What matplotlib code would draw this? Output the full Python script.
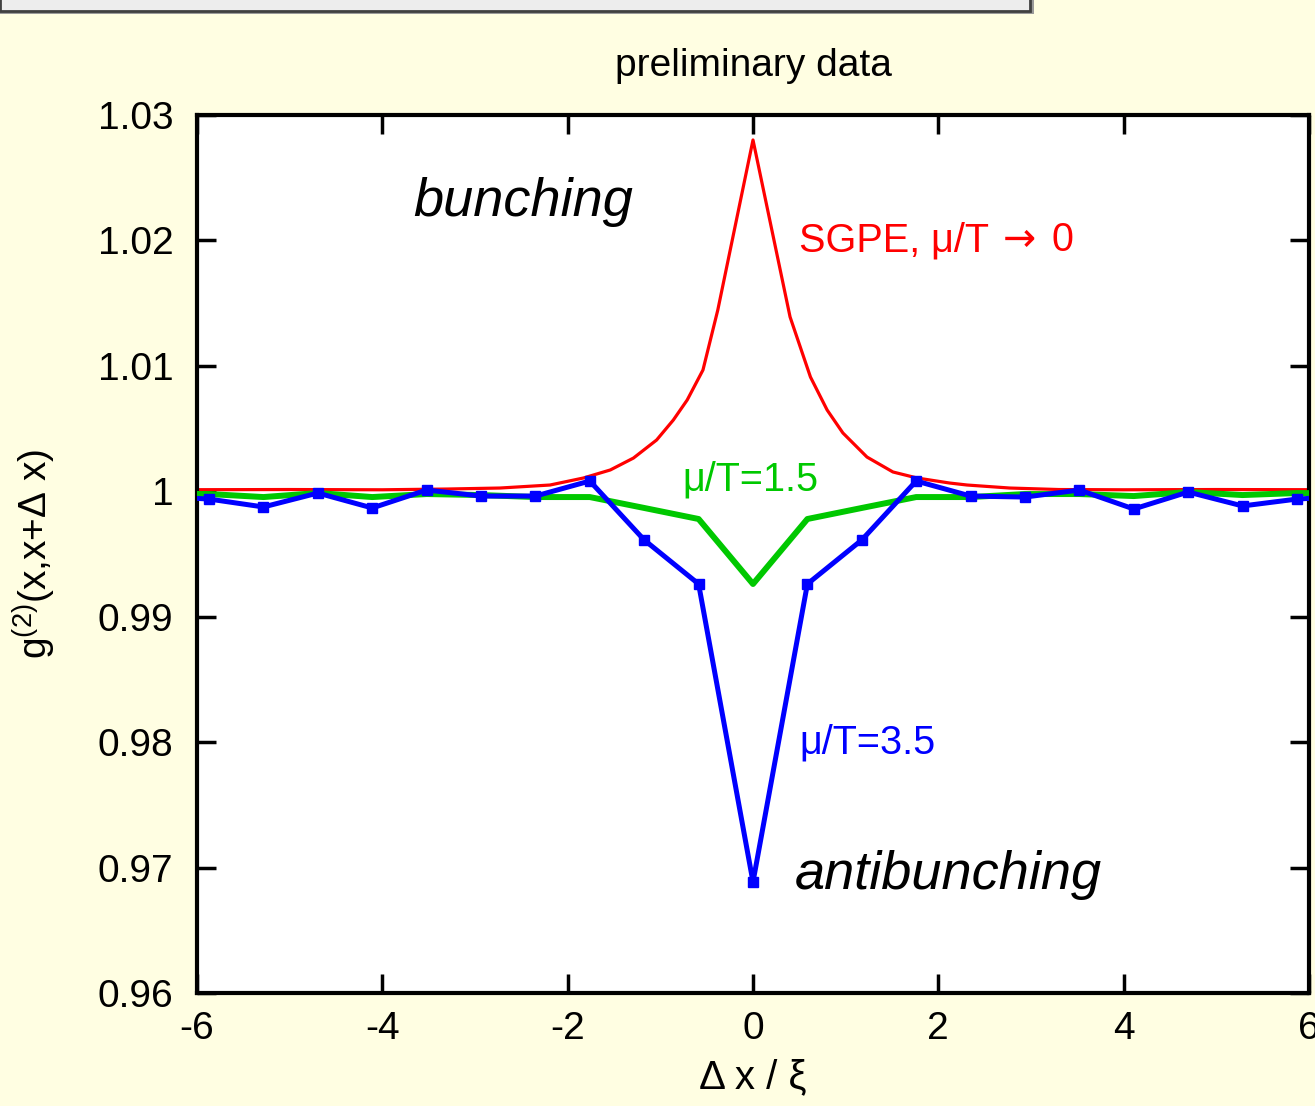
import numpy as np
import matplotlib
matplotlib.use("Agg")
import matplotlib.pyplot as plt
from matplotlib.patches import Rectangle

plt.rcParams['font.family'] = ['Liberation Sans', 'DejaVu Sans']
plt.rcParams['mathtext.fontset'] = 'custom'
plt.rcParams['mathtext.rm'] = 'Liberation Sans'

# SGPE, mu/T -> 0 (red)
red_x = [-6.5, -5.0, -4.0, -3.3, -2.73, -2.19, -1.83, -1.54, -1.29, -1.04, -0.86,
         -0.71, -0.54, -0.38, 0.0, 0.40, 0.62, 0.80, 0.97, 1.23, 1.51, 1.77, 2.12,
         2.31, 2.77, 3.3, 4.0, 5.0, 6.5]
red_y = [1.00012, 1.00014, 1.00012, 1.00018, 1.00026, 1.00050, 1.00106, 1.00170,
         1.00265, 1.00409, 1.00568, 1.00728, 1.00967, 1.01445, 1.02801, 1.01390,
         1.00911, 1.00648, 1.00465, 1.00273, 1.00154, 1.00106, 1.00066, 1.00050,
         1.00026, 1.00014, 1.00012, 1.00014, 1.00012]

# lattice points, spacing 0.587 xi
k = np.arange(-11, 12)
dx = 0.587 * k

# mu/T = 1.5 (green)
green_y = [0.99982, 0.99978, 0.99954, 0.99986, 0.99954, 0.99978, 0.99970, 0.99954,
           0.99954, 0.99867, 0.99779, 0.99261, 0.99779, 0.99867, 0.99954, 0.99954,
           0.99978, 0.99978, 0.99962, 0.99994, 0.99970, 0.99986, 0.99982]

# mu/T = 3.5 (blue)
blue_y = [0.99962, 0.99938, 0.99875, 0.99986, 0.99867, 1.00010, 0.99962, 0.99962,
          1.00082, 0.99612, 0.99261, 0.96885, 0.99261, 0.99612, 1.00082, 0.99962,
          0.99954, 1.00010, 0.99859, 0.99994, 0.99883, 0.99938, 0.99962]

bg = '#fffee2'
fig = plt.figure(figsize=(13.15, 11.06), dpi=100, facecolor=bg)

# slide title box cut off at the top
fig.patches.append(Rectangle((0.0, 1 - 14 / 1106), 1034 / 1315, 30 / 1106,
                             transform=fig.transFigure, facecolor='#9a9a9a',
                             edgecolor='none', zorder=0))
fig.patches.append(Rectangle((0.0, 1 - 11 / 1106), 1030 / 1315, 30 / 1106,
                             transform=fig.transFigure, facecolor='#ededed',
                             edgecolor='#404040', linewidth=2, zorder=1))

ax = fig.add_axes([197 / 1315, 1 - 993 / 1106, 1112 / 1315, 878 / 1106])
ax.set_facecolor('white')

ax.plot(red_x, red_y, color='#ff0000', lw=2.3, zorder=2)
ax.plot(dx, green_y, color='#00c800', lw=4.3, zorder=3)
ax.plot(dx, blue_y, color='#0000ff', lw=3.6, marker='s', ms=7, zorder=4)

ax.set_xlim(-6, 6)
ax.set_ylim(0.96, 1.03)
ax.set_xticks([-6, -4, -2, 0, 2, 4, 6])
ax.set_xticklabels(['-6', '-4', '-2', '0', '2', '4', '6'])
ax.set_yticks([0.96, 0.97, 0.98, 0.99, 1.0, 1.01, 1.02, 1.03])
ax.set_yticklabels(['0.96', '0.97', '0.98', '0.99', '1', '1.01', '1.02', '1.03'])
ax.tick_params(direction='in', length=14, width=2.5, labelsize=28,
               top=True, right=True)
ax.tick_params(axis='y', pad=17)
ax.tick_params(axis='x', pad=13)
for s in ax.spines.values():
    s.set_linewidth(3)

ax.set_xlabel('Δ x / ξ', fontsize=29, labelpad=8)
ax.set_ylabel('g$^{\\mathregular{(2)}}$(x,x+Δ x)', fontsize=28, labelpad=12)
ax.yaxis.set_label_coords(-0.125, 0.50)
ax.set_title('preliminary data', fontsize=28, pad=28)

ax.text(-3.67, 1.0231, 'bunching', fontsize=39, style='italic', ha='left', va='center')
ax.text(0.45, 0.9694, 'antibunching', fontsize=39, style='italic', ha='left', va='center')

# curve labels
ax.text(0.50, 1.0200, 'SGPE, μ/T', fontsize=28.5, color='#ff0000', ha='left', va='center')
ax.text(2.70, 1.0200, '→', fontsize=28.5, color='#ff0000', ha='left', va='center',
        family=['DejaVu Sans'])
ax.text(3.22, 1.0200, '0', fontsize=28.5, color='#ff0000', ha='left', va='center')
ax.text(-0.76, 1.0009, 'μ/T=1.5', fontsize=28.5, color='#00c800', ha='left', va='center')
ax.text(0.50, 0.9800, 'μ/T=3.5', fontsize=28.5, color='#0000ff', ha='left', va='center')

fig.savefig('out.png', dpi=100, facecolor=bg)
